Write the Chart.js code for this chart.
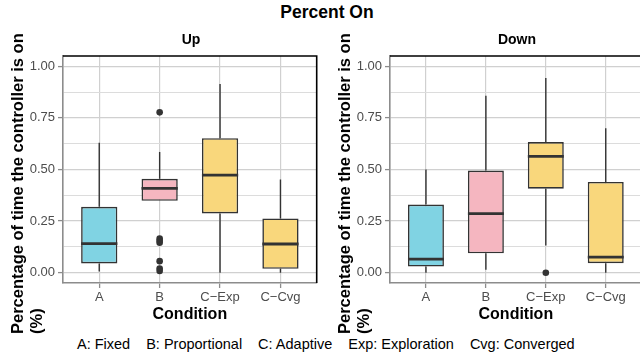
<!DOCTYPE html>
<html><head><meta charset="utf-8">
<script src="https://cdn.jsdelivr.net/npm/chart.js@4.4.1/dist/chart.umd.min.js"></script>
<style>
html,body{margin:0;padding:0;width:640px;height:358px;overflow:hidden;background:#fff;font-family:'Liberation Sans',Arial,sans-serif;}
.abs{position:absolute;white-space:nowrap;color:#000;}
canvas{position:absolute;}
.ytitle{font-size:16.5px;font-weight:bold;line-height:19px;transform-origin:0 0;transform:rotate(-90deg);text-align:left;}
.cap span{margin-right:16px;}
</style></head><body>
<canvas id="cUp" width="320" height="284" style="left:0;top:40px"></canvas>
<canvas id="cDown" width="325" height="284" style="left:320px;top:40px"></canvas>
<div class="abs" style="left:227px;width:200px;top:2px;line-height:21px;font-size:17.5px;font-weight:bold;text-align:center;">Percent On</div>
<div class="abs" style="left:141px;width:100px;top:30px;line-height:18px;font-size:14px;font-weight:bold;text-align:center;">Up</div>
<div class="abs" style="left:467px;width:100px;top:30px;line-height:18px;font-size:14px;font-weight:bold;text-align:center;">Down</div>
<div class="abs ytitle" style="left:7.5px;top:334px;">Percentage of time the controller is on<br>(%)</div>
<div class="abs ytitle" style="left:334.5px;top:334px;">Percentage of time the controller is on<br>(%)</div>
<div class="abs cap" style="left:77px;top:335px;line-height:18px;font-size:14.5px;"><span>A: Fixed</span><span>B: Proportional</span><span>C: Adaptive</span><span>Exp: Exploration</span><span>Cvg: Converged</span></div>
<script>
const categories = ['A', 'B', 'C\u2212Exp', 'C\u2212Cvg'];
const yMajorTicks = [0, 0.25, 0.5, 0.75, 1];
const yMinorTicks = [0.125, 0.375, 0.625, 0.875];

// Up panel five-number summaries
const upMin = [0.006, 0.348, 0.0, 0.0];
const upQ1  = [0.045, 0.348, 0.287, 0.019];
const upMed = [0.141, 0.409, 0.473, 0.139];
const upQ3  = [0.319, 0.455, 0.652, 0.263];
const upMax = [0.630, 0.585, 0.914, 0.452];
const upOutliers = [[], [0.777, 0.165, 0.155, 0.145, 0.056, 0.020, 0.008], [], []];

// Down panel five-number summaries
const downMin = [0.0, 0.014, 0.132, 0.0];
const downQ1  = [0.030, 0.094, 0.407, 0.046];
const downMed = [0.066, 0.286, 0.564, 0.075];
const downQ3  = [0.330, 0.495, 0.633, 0.440];
const downMax = [0.500, 0.857, 0.943, 0.700];
const downOutliers = [[], [], [0.0], []];

const boxColors = ['#80d3e3', '#f5b6c0', '#f9d77c', '#f9d77c'];

Chart.defaults.font.family = "'Liberation Sans', Arial, sans-serif";

function makeChart(id, mins, q1s, meds, q3s, maxs, outs, axisWidth, padRight) {
  const boxData = categories.map((c, i) => ({x: i + 1, y: [q1s[i], q3s[i]]}));
  const outData = [];
  outs.forEach((arr, i) => arr.forEach(v => outData.push({x: i + 1, y: v})));
  const isMajor = v => yMajorTicks.includes(v);
  const plugin = {
    id: 'boxparts',
    beforeDatasetsDraw(chart) {
      const {ctx, scales: {x, y}} = chart;
      ctx.save();
      ctx.strokeStyle = '#333333';
      ctx.lineWidth = 1.4;
      mins.forEach((mn, i) => {
        const px = x.getPixelForValue(i + 1);
        ctx.beginPath();
        ctx.moveTo(px, y.getPixelForValue(q3s[i]));
        ctx.lineTo(px, y.getPixelForValue(maxs[i]));
        ctx.moveTo(px, y.getPixelForValue(q1s[i]));
        ctx.lineTo(px, y.getPixelForValue(mn));
        ctx.stroke();
      });
      ctx.restore();
    },
    afterDatasetsDraw(chart) {
      const {ctx, scales: {y}} = chart;
      const meta = chart.getDatasetMeta(0);
      ctx.save();
      ctx.strokeStyle = '#333333';
      ctx.lineWidth = 2.8;
      meta.data.forEach((el, i) => {
        const py = y.getPixelForValue(meds[i]);
        ctx.beginPath();
        ctx.moveTo(el.x - el.width / 2, py);
        ctx.lineTo(el.x + el.width / 2, py);
        ctx.stroke();
      });
      ctx.restore();
    },
    afterDraw(chart) {
      const {ctx, chartArea: a} = chart;
      ctx.save();
      ctx.strokeStyle = '#000';
      ctx.lineWidth = 1.6;
      ctx.beginPath();
      ctx.moveTo(a.left, a.top);
      ctx.lineTo(a.right, a.top);
      ctx.lineTo(a.right, a.bottom);
      ctx.stroke();
      ctx.restore();
    }
  };
  return new Chart(document.getElementById(id), {
    type: 'bar',
    data: {
      datasets: [
        {type: 'bar', data: boxData, backgroundColor: boxColors, borderColor: '#333333', borderWidth: 1.6,
         borderSkipped: false, categoryPercentage: 1, barPercentage: 0.6, order: 1},
        {type: 'scatter', data: outData, pointRadius: 3.3, pointBackgroundColor: '#333333', pointBorderWidth: 0,
         pointHoverRadius: 3.3, order: 0}
      ]
    },
    options: {
      responsive: false, animation: false, devicePixelRatio: 1,
      layout: {padding: {top: 16, right: padRight, left: 0, bottom: 0}},
      plugins: {legend: {display: false}, tooltip: {enabled: false}, title: {display: false}},
      scales: {
        x: {
          type: 'linear', min: 0.4, max: 4.6, bounds: 'data', offset: false,
          afterBuildTicks: s => { s.ticks = categories.map((c, i) => ({value: i + 1})); },
          afterFit: s => { s.height = 41; },
          ticks: {autoSkip: false, maxRotation: 0, padding: 2, color: '#4d4d4d', font: {size: 13},
                  callback: v => categories[v - 1]},
          grid: {offset: false, color: '#d0d0d0', lineWidth: 1.2, tickLength: 5, tickColor: '#8c8c8c', tickWidth: 1.3},
          border: {display: true, color: '#8c8c8c', width: 1.6},
          title: {display: true, text: 'Condition', color: '#000', font: {size: 16, weight: 'bold'}, padding: {top: 0, bottom: 0}}
        },
        y: {
          type: 'linear', min: -0.05, max: 1.05, bounds: 'data',
          afterBuildTicks: s => { s.ticks = [...yMajorTicks, ...yMinorTicks].sort((a, b) => a - b).map(v => ({value: v})); },
          afterFit: s => { s.width = axisWidth; },
          ticks: {autoSkip: false, padding: 3, color: '#4d4d4d', font: {size: 13},
                  callback: v => isMajor(v) ? v.toFixed(2) : ''},
          grid: {
            color: c => (c.tick && isMajor(c.tick.value)) ? '#d0d0d0' : '#dcdcdc',
            lineWidth: c => (c.tick && isMajor(c.tick.value)) ? 1.2 : 1,
            tickColor: c => (c.tick && isMajor(c.tick.value)) ? '#8c8c8c' : 'rgba(0,0,0,0)',
            tickLength: 5, tickWidth: 1.3
          },
          border: {display: true, color: '#8c8c8c', width: 1.6}
        }
      }
    },
    plugins: [plugin]
  });
}

makeChart('cUp', upMin, upQ1, upMed, upQ3, upMax, upOutliers, 63, 2);
makeChart('cDown', downMin, downQ1, downMed, downQ3, downMax, downOutliers, 70, 0);
</script>
</body></html>
